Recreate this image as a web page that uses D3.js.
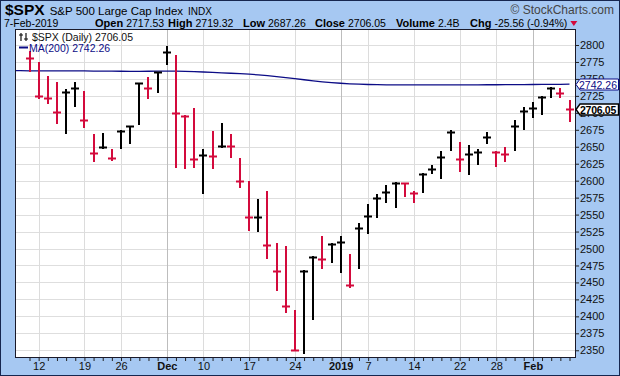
<!DOCTYPE html>
<html>
<head>
<meta charset="utf-8">
<script src="https://cdn.jsdelivr.net/npm/d3@7"></script>
<style>
  body { margin: 0; background: #fff; }
  svg text { font-family: "Liberation Sans", Arial, sans-serif; }
</style>
</head>
<body>
<div id="chart"></div>
<script>
// trading days shown
const dates = [
  "2018-11-09","2018-11-12","2018-11-13","2018-11-14","2018-11-15","2018-11-16",
  "2018-11-19","2018-11-20","2018-11-21","2018-11-23","2018-11-26","2018-11-27",
  "2018-11-28","2018-11-29","2018-11-30","2018-12-03","2018-12-04","2018-12-06",
  "2018-12-07","2018-12-10","2018-12-11","2018-12-12","2018-12-13","2018-12-14",
  "2018-12-17","2018-12-18","2018-12-19","2018-12-20","2018-12-21","2018-12-24",
  "2018-12-26","2018-12-27","2018-12-28","2018-12-31","2019-01-02","2019-01-03",
  "2019-01-04","2019-01-07","2019-01-08","2019-01-09","2019-01-10","2019-01-11",
  "2019-01-14","2019-01-15","2019-01-16","2019-01-17","2019-01-18","2019-01-22",
  "2019-01-23","2019-01-24","2019-01-25","2019-01-28","2019-01-29","2019-01-30",
  "2019-01-31","2019-02-01","2019-02-04","2019-02-05","2019-02-06","2019-02-07"
];

const highs = [
  2791, 2775.4, 2754.8, 2745.9, 2734.7, 2745.0, 2732.2, 2668.9, 2669.9, 2646.8,
  2674.4, 2681.1, 2744.0, 2752.4, 2760.9, 2798.5, 2785.3, 2696.2, 2706.7, 2646.3,
  2673.3, 2684.6, 2668.4, 2633.1, 2599.6, 2573.1, 2584.9, 2507.9, 2503.9, 2409.6,
  2467.8, 2489.1, 2518.6, 2507.9, 2518.6, 2492.1, 2537.3, 2565.8, 2580.5, 2593.8,
  2597.8, 2596.3, 2585.4, 2611.0, 2623.2, 2643.8, 2674.8, 2657.5, 2652.7, 2646.3,
  2672.3, 2643.8, 2649.3, 2689.5, 2708.2, 2715.6, 2725.3, 2738.6, 2736.2, 2719.32
];

const lows = [
  2762, 2721.5, 2714.1, 2684.7, 2669.9, 2710.6, 2679.6, 2629.6, 2647.8, 2630.6,
  2648.7, 2655.2, 2683.2, 2721.5, 2731.2, 2772.0, 2619.8, 2619.2, 2620.7, 2581.5,
  2619.2, 2650.3, 2635.4, 2591.3, 2527.5, 2526.4, 2486.6, 2439.1, 2407.1, 2351.1,
  2345.8, 2395.9, 2471.0, 2480.8, 2466.0, 2443.1, 2471.9, 2522.6, 2546.2, 2568.3,
  2561.0, 2577.4, 2569.2, 2583.9, 2611.0, 2604.5, 2645.3, 2614.8, 2610.0, 2624.7,
  2656.1, 2622.2, 2629.6, 2645.3, 2676.3, 2694.4, 2697.9, 2723.0, 2723.0, 2687.26
];

const closes = [
  2780.4, 2725.3, 2721.5, 2701.7, 2731.2, 2736.2, 2689.5, 2641.3, 2650.2, 2633.1,
  2673.7, 2680.7, 2743.6, 2737.1, 2759.8, 2790.1, 2699.4, 2695.8, 2632.0, 2637.7,
  2636.8, 2651.1, 2650.5, 2600.1, 2545.9, 2546.2, 2505.4, 2467.1, 2415.5, 2351.1,
  2467.5, 2488.1, 2485.2, 2506.4, 2510.2, 2446.4, 2530.8, 2548.5, 2574.3, 2583.9,
  2596.6, 2596.0, 2582.4, 2610.0, 2616.9, 2635.4, 2671.8, 2632.5, 2639.0, 2642.4,
  2664.0, 2642.4, 2639.0, 2681.1, 2703.2, 2706.7, 2723.8, 2737.1, 2729.8, 2706.05
];

// close of the day before the first bar (sets first bar colour)
const prevClose = 2806.8;

// 200-day moving average, two extra days before the first bar so it reaches the left edge
const maLeadDates = ["2018-11-07", "2018-11-08"];
const ma200 = [
  2762.2, 2762.1,
  2762, 2762, 2762, 2762, 2762, 2762, 2761.8, 2761.6, 2761.5, 2761.4,
  2761.3, 2761.2, 2761.2, 2761.3, 2761.4, 2761.6, 2761.5, 2761.2, 2760.8, 2760.2,
  2759.6, 2759.0, 2758.4, 2757.8, 2757.0, 2756.0, 2754.8, 2753.4, 2752.0, 2750.4,
  2748.8, 2747.2, 2745.8, 2744.6, 2743.6, 2742.8, 2742.2, 2741.8, 2741.5, 2741.3,
  2741.2, 2741.1, 2741.1, 2741.1, 2741.1, 2741.1, 2741.2, 2741.2, 2741.3, 2741.3,
  2741.4, 2741.4, 2741.5, 2741.6, 2741.7, 2741.8, 2741.9, 2742.0, 2742.1, 2742.26
];

const yTicks = [2350, 2375, 2400, 2425, 2450, 2475, 2500, 2525, 2550, 2575, 2600,
  2625, 2650, 2675, 2700, 2725, 2750, 2775, 2800];

const labelDates = ["2018-11-12","2018-11-19","2018-11-26","2018-12-03","2018-12-10",
  "2018-12-17","2018-12-24","2019-01-02","2019-01-07","2019-01-14","2019-01-22",
  "2019-01-28","2019-02-01"];
const labelTexts = ["12","19","26","Dec","10","17","24","2019","7","14","22","28","Feb"];
const boldLabels = ["Dec", "2019", "Feb"];

const quoteKeys = ["Open", "High", "Low", "Close", "Volume", "Chg"];
const quoteValues = ["2717.53", "2719.32", "2687.26", "2706.05", "2.4B", "-25.56 (-0.94%)"];
const quoteDate = "7-Feb-2019";
const lastClose = 2706.05;
const lastMa = 2742.26;

const width = 620, height = 376;
const plot = { left: 15, right: 576, top: 29, bottom: 358 };
const red = "#d30a3c", navy = "#0c0c86";

const svg = d3.select("#chart").append("svg")
  .attr("width", width).attr("height", height);

svg.append("rect")
  .attr("x", 0.5).attr("y", 0.5).attr("width", width - 1).attr("height", height - 1)
  .attr("fill", "#a6c8f2").attr("stroke", "#16264f");

svg.append("rect")
  .attr("x", plot.left).attr("y", plot.top)
  .attr("width", plot.right - plot.left).attr("height", plot.bottom - plot.top)
  .attr("fill", "#fff");

const step = (569.5 - 29.5) / (dates.length - 1);
const x = d3.scalePoint()
  .domain(maLeadDates.concat(dates))
  .range([29.5 - step * maLeadDates.length, 569.5]);

const y = d3.scaleLinear()
  .domain([2338.6, 2823.6])
  .range([plot.bottom, plot.top]);

svg.append("clipPath").attr("id", "clip")
  .append("rect")
  .attr("x", plot.left).attr("y", plot.top)
  .attr("width", plot.right - plot.left).attr("height", plot.bottom - plot.top);

// grid
const grid = svg.append("g");
grid.selectAll("line.h")
  .data(yTicks)
  .join("line")
  .attr("class", "h")
  .attr("x1", plot.left).attr("x2", plot.right)
  .attr("y1", d => Math.round(y(d)) + 0.5).attr("y2", d => Math.round(y(d)) + 0.5)
  .attr("stroke", "#dedede");

grid.selectAll("line.v")
  .data(labelDates)
  .join("line")
  .attr("class", "v")
  .attr("x1", d => Math.round(x(d)) + 0.5).attr("x2", d => Math.round(x(d)) + 0.5)
  .attr("y1", plot.top).attr("y2", plot.bottom)
  .attr("stroke", (d, i) => boldLabels.includes(labelTexts[i]) ? "#bdbdbd" : "#dcdcdc");

// moving average
const maData = maLeadDates.concat(dates).map((d, i) => ({ date: d, v: ma200[i] }));
svg.append("path")
  .datum(maData)
  .attr("clip-path", "url(#clip)")
  .attr("fill", "none")
  .attr("stroke", navy)
  .attr("stroke-width", 1.3)
  .attr("d", d3.line().x(d => x(d.date)).y(d => y(d.v)));

// HLC bars
const bars = dates.map((d, i) => ({
  date: d, high: highs[i], low: lows[i], close: closes[i],
  up: closes[i] >= (i === 0 ? prevClose : closes[i - 1])
}));

const barG = svg.append("g").attr("clip-path", "url(#clip)");
barG.selectAll("line.hl")
  .data(bars)
  .join("line")
  .attr("class", "hl")
  .attr("x1", d => Math.round(x(d.date))).attr("x2", d => Math.round(x(d.date)))
  .attr("y1", d => Math.round(y(d.high))).attr("y2", d => Math.round(y(d.low)) + 1)
  .attr("stroke", d => d.up ? "#000" : red)
  .attr("stroke-width", 2);

barG.selectAll("line.cl")
  .data(bars)
  .join("line")
  .attr("class", "cl")
  .attr("x1", d => Math.round(x(d.date)) - 4).attr("x2", d => Math.round(x(d.date)) + 4)
  .attr("y1", d => Math.round(y(d.close)) + 0.5).attr("y2", d => Math.round(y(d.close)) + 0.5)
  .attr("stroke", d => d.up ? "#000" : red)
  .attr("stroke-width", 2);

// plot frame
svg.append("rect")
  .attr("x", plot.left + 0.5).attr("y", plot.top + 0.5)
  .attr("width", plot.right - plot.left - 1).attr("height", plot.bottom - plot.top - 1)
  .attr("fill", "none").attr("stroke", "#1a1a2a");

// right axis
svg.append("g")
  .attr("transform", `translate(${plot.right},0)`)
  .call(d3.axisRight(y).tickValues(yTicks).tickSize(3).tickPadding(1).tickFormat(d3.format("d")))
  .call(g => g.select(".domain").remove())
  .call(g => g.selectAll("line").attr("stroke", "#222"))
  .call(g => g.selectAll("text").attr("fill", "#111"))
  .attr("font-size", 11)
  .attr("font-family", "Liberation Sans, Arial, sans-serif");

// bottom axis, a tick per day
const labelOf = new Map(labelDates.map((d, i) => [d, labelTexts[i]]));
svg.append("g")
  .attr("transform", `translate(0,${plot.bottom})`)
  .call(d3.axisBottom(x).tickValues(dates).tickSize(3).tickPadding(1)
    .tickFormat(d => labelOf.get(d) || ""))
  .call(g => g.select(".domain").remove())
  .call(g => g.selectAll("line").attr("stroke", "#222"))
  .call(g => g.selectAll("text").attr("fill", "#111")
    .attr("font-weight", d => boldLabels.includes(labelOf.get(d)) ? "bold" : "normal"))
  .attr("font-size", 11)
  .attr("font-family", "Liberation Sans, Arial, sans-serif");

// last value tags on the axis
function tag(value, text, color, bold) {
  const yc = Math.round(y(value)) + 0.5;
  const g = svg.append("g");
  g.append("path")
    .attr("d", `M${plot.right},${yc} L${plot.right + 4},${yc - 5.5} H618.5 V${yc + 5.5} H${plot.right + 4} Z`)
    .attr("fill", "#fff").attr("stroke", color).attr("stroke-width", bold ? 1.4 : 1);
  g.append("text")
    .attr("x", 598).attr("y", yc + 4)
    .attr("text-anchor", "middle")
    .attr("font-size", 10.5)
    .attr("font-weight", bold ? "bold" : "normal")
    .attr("letter-spacing", bold ? -0.3 : 0)
    .attr("fill", color)
    .text(text);
}
tag(lastMa, d3.format(".2f")(lastMa), navy, false);
tag(lastClose, d3.format(".2f")(lastClose), "#000", true);

// legend
const leg = svg.append("g").attr("font-family", "DejaVu Sans, Verdana, sans-serif").attr("font-size", 10.5);
leg.append("path").attr("d", "M21,33 V41 M19,35 H23 M26,33 V41 M24,39 H28")
  .attr("stroke", "#111").attr("stroke-width", 1.2).attr("fill", "none");
leg.append("text").attr("x", 32).attr("y", 41).attr("fill", "#111")
  .text(`$SPX (Daily) ${d3.format(".2f")(lastClose)}`);
leg.append("line").attr("x1", 19).attr("x2", 28).attr("y1", 47.5).attr("y2", 47.5)
  .attr("stroke", navy).attr("stroke-width", 2);
leg.append("text").attr("x", 29).attr("y", 51.5).attr("fill", navy)
  .text(`MA(200) ${d3.format(".2f")(lastMa)}`);

// header
const h1 = svg.append("text").attr("x", 5).attr("y", 15).attr("fill", "#000");
h1.append("tspan").attr("font-size", 15.5).attr("font-weight", "bold").text("$SPX");
h1.append("tspan").attr("dx", 5).attr("font-size", 11.5).text("S&P 500 Large Cap Index");
h1.append("tspan").attr("dx", 5).attr("font-size", 10).text("INDX");

svg.append("text").attr("x", 614).attr("y", 14).attr("text-anchor", "end")
  .attr("font-size", 12).attr("fill", "#444").text("\u00a9 StockCharts.com");

svg.append("text").attr("x", 4).attr("y", 27).attr("font-size", 10.5).text(quoteDate);

const quoteX = [95, 168, 243, 315, 396, 470];
let endX = 0;
quoteKeys.forEach((k, i) => {
  const t = svg.append("text").attr("x", quoteX[i]).attr("y", 27).attr("font-size", 10.5).attr("fill", "#000");
  t.append("tspan").attr("font-weight", "bold").attr("font-size", 11).text(k);
  t.append("tspan").attr("dx", 3).text(quoteValues[i]);
  endX = quoteX[i] + t.node().getComputedTextLength();
});
svg.append("path")
  .attr("d", `M${endX + 6},21 h7 l-3.5,5 z`)
  .attr("fill", red);
</script>
</body>
</html>
